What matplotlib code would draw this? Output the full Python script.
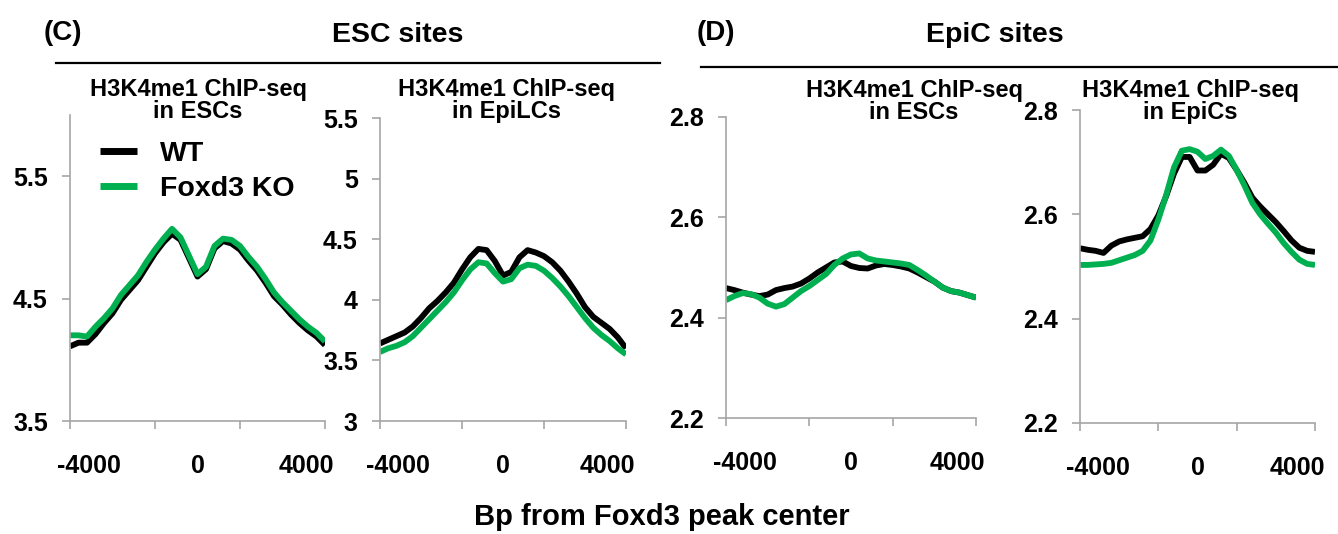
import numpy as np
import matplotlib
matplotlib.use("Agg")
import matplotlib.pyplot as plt

plt.rcParams["font.family"] = ["Liberation Sans", "DejaVu Sans"]
plt.rcParams["font.weight"] = "bold"

### data
bp = np.linspace(-4700, 4700, 31)  # bp from Foxd3 peak center

# (C) ESC sites, H3K4me1 in ESCs
esc_in_esc_wt = [4.11, 4.14, 4.14, 4.21, 4.30, 4.38, 4.49, 4.57, 4.65, 4.76, 4.87,
                 4.96, 5.03, 4.98, 4.83, 4.68, 4.74, 4.91, 4.97, 4.95, 4.90,
                 4.81, 4.73, 4.63, 4.52, 4.45, 4.37, 4.30, 4.24, 4.19, 4.12]
esc_in_esc_ko = [4.20, 4.20, 4.19, 4.27, 4.34, 4.42, 4.53, 4.61, 4.69, 4.80, 4.90,
                 4.99, 5.07, 5.00, 4.85, 4.70, 4.76, 4.93, 4.99, 4.98, 4.93,
                 4.84, 4.76, 4.66, 4.55, 4.47, 4.40, 4.33, 4.27, 4.22, 4.15]
# (C) ESC sites, H3K4me1 in EpiLCs
esc_in_epilc_wt = [3.64, 3.67, 3.70, 3.73, 3.78, 3.85, 3.93, 3.99, 4.06, 4.14, 4.25,
                   4.35, 4.42, 4.41, 4.32, 4.20, 4.23, 4.35, 4.41, 4.39, 4.36,
                   4.31, 4.24, 4.15, 4.05, 3.94, 3.86, 3.81, 3.76, 3.69, 3.60]
esc_in_epilc_ko = [3.57, 3.60, 3.62, 3.65, 3.70, 3.77, 3.84, 3.91, 3.98, 4.06, 4.16,
                   4.25, 4.31, 4.30, 4.22, 4.15, 4.17, 4.26, 4.29, 4.28, 4.24,
                   4.18, 4.11, 4.03, 3.94, 3.85, 3.77, 3.71, 3.66, 3.60, 3.55]
# (D) EpiC sites, H3K4me1 in ESCs
epi_in_esc_wt = [2.459, 2.455, 2.450, 2.446, 2.443, 2.446, 2.455, 2.459, 2.462, 2.468,
                 2.478, 2.490, 2.500, 2.510, 2.512, 2.503, 2.499, 2.498, 2.504, 2.507,
                 2.505, 2.502, 2.498, 2.490, 2.481, 2.472, 2.460, 2.453, 2.450, 2.445, 2.440]
epi_in_esc_ko = [2.435, 2.443, 2.449, 2.447, 2.440, 2.428, 2.422, 2.427, 2.440, 2.453,
                 2.463, 2.475, 2.487, 2.505, 2.518, 2.526, 2.528, 2.518, 2.514, 2.512,
                 2.510, 2.508, 2.505, 2.495, 2.484, 2.472, 2.460, 2.453, 2.450, 2.445, 2.440]
# (D) EpiC sites, H3K4me1 in EpiCs
epi_in_epi_wt = [2.535, 2.532, 2.530, 2.526, 2.540, 2.548, 2.552, 2.555, 2.558, 2.572,
                 2.598, 2.635, 2.678, 2.710, 2.710, 2.684, 2.684, 2.695, 2.716, 2.708,
                 2.685, 2.660, 2.632, 2.615, 2.600, 2.585, 2.568, 2.550, 2.536, 2.530, 2.528]
epi_in_epi_ko = [2.503, 2.503, 2.504, 2.505, 2.507, 2.512, 2.517, 2.522, 2.530, 2.550,
                 2.590, 2.637, 2.690, 2.722, 2.725, 2.720, 2.706, 2.712, 2.724, 2.712,
                 2.685, 2.655, 2.622, 2.600, 2.582, 2.565, 2.545, 2.528, 2.513, 2.505, 2.503]

x_ticks = [-4000, 0, 4000]
series_names = ["WT", "Foxd3 KO"]
colors = ["black", "#00b050"]

W, H = 1338, 534
fig = plt.figure(figsize=(W / 100, H / 100), dpi=100)


def add_axes_px(left, right, top, bottom):
    return fig.add_axes([left / W, 1 - bottom / H, (right - left) / W, (bottom - top) / H])


panels = [
    # (left, right, top, bottom) in px, ylim, yticks, data, title line 2, title x
    ((70, 325, 115, 421), (3.5, 6.0), [3.5, 4.5, 5.5], (esc_in_esc_wt, esc_in_esc_ko), "in ESCs", 198),
    ((380, 626, 118, 421), (3.0, 5.5), [3, 3.5, 4, 4.5, 5, 5.5], (esc_in_epilc_wt, esc_in_epilc_ko), "in EpiLCs", 506),
    ((726, 976, 117, 418), (2.2, 2.8), [2.2, 2.4, 2.6, 2.8], (epi_in_esc_wt, epi_in_esc_ko), "in ESCs", 914),
    ((1080, 1315, 110, 423), (2.2, 2.8), [2.2, 2.4, 2.6, 2.8], (epi_in_epi_wt, epi_in_epi_ko), "in EpiCs", 1190),
]

axes = []
for (box, ylim, yticks, data, t2, tx) in panels:
    ax = add_axes_px(*box)
    for vals, name, c in zip(data, series_names, colors):
        ax.plot(bp, vals, color=c, lw=4.2, label=name, solid_capstyle="butt")
    ax.set_xlim(-4700, 4700)
    ax.set_ylim(*ylim)
    ax.set_yticks(yticks)
    ax.set_yticklabels(["%g" % v for v in yticks])
    ax.set_xticks(x_ticks)
    ax.set_xticklabels(["%d" % v for v in x_ticks])
    ax.set_xticks(np.linspace(-4700, 4700, 4), minor=True)
    for s in ["top", "right"]:
        ax.spines[s].set_visible(False)
    for s in ["left", "bottom"]:
        ax.spines[s].set_color("#a6a6a6")
        ax.spines[s].set_linewidth(1.2)
    ax.tick_params(axis="x", which="major", length=0, pad=24, labelsize=18)
    ax.tick_params(axis="x", which="minor", length=6, width=1.2, color="#a6a6a6")
    ax.tick_params(axis="y", length=6, width=1.2, color="#a6a6a6", pad=10, labelsize=18)
    ax.set_facecolor("none")
    # two line panel title
    top_base = 96 if tx < 700 else 97
    fig.text(tx / W, 1 - top_base / H, "H3K4me1 ChIP-seq", ha="center", va="baseline", fontsize=17)
    fig.text(tx / W, 1 - (top_base + 22) / H, t2, ha="center", va="baseline", fontsize=17)
    axes.append(ax)

leg = axes[0].legend(loc="upper left", bbox_to_anchor=(100 / W, 1 - 141 / H),
                     bbox_transform=fig.transFigure, frameon=False, fontsize=20.5,
                     handlelength=1.3, handletextpad=0.8, labelspacing=0.32,
                     borderpad=0, borderaxespad=0)
for line in leg.get_lines():
    line.set_linewidth(5)

# section headers
fig.text(63 / W, 1 - 40 / H, "(C)", ha="center", va="baseline", fontsize=20)
fig.text(398 / W, 1 - 42 / H, "ESC sites", ha="center", va="baseline", fontsize=20.5)
fig.text(716 / W, 1 - 40 / H, "(D)", ha="center", va="baseline", fontsize=20)
fig.text(995 / W, 1 - 42 / H, "EpiC sites", ha="center", va="baseline", fontsize=20.5)
fig.add_artist(plt.Line2D([56 / W, 660 / W], [1 - 63 / H, 1 - 63 / H], color="black", lw=1.6))
fig.add_artist(plt.Line2D([701 / W, 1.0], [1 - 67 / H, 1 - 67 / H], color="black", lw=1.6))

fig.text(662 / W, 1 - 525 / H, "Bp from Foxd3 peak center", ha="center", va="baseline", fontsize=21)

fig.savefig("out.png", dpi=100)
